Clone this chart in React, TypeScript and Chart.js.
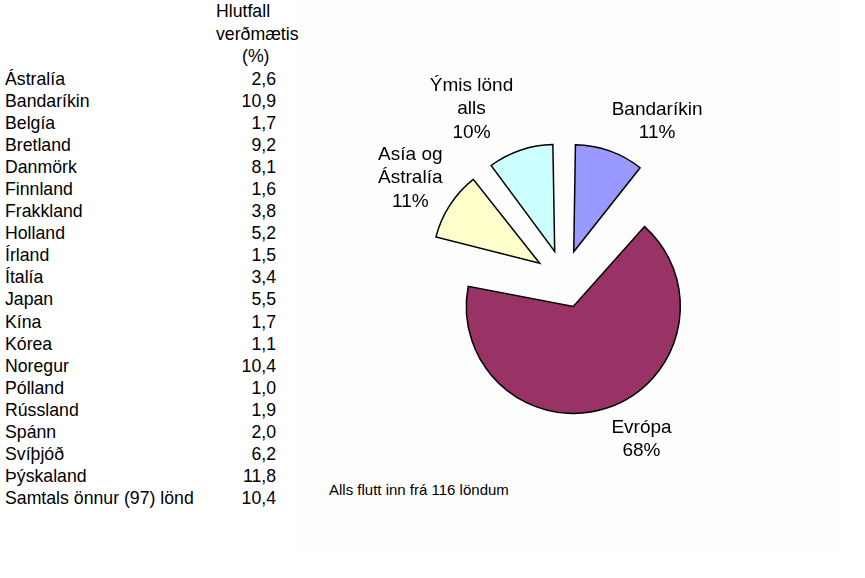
import React, { useEffect, useRef } from "react";
import { Chart, registerables } from "chart.js";

Chart.register(...registerables);

// ---- Data ----
const countries = [
  "Ástralía", "Bandaríkin", "Belgía", "Bretland", "Danmörk", "Finnland",
  "Frakkland", "Holland", "Írland", "Ítalía", "Japan", "Kína", "Kórea",
  "Noregur", "Pólland", "Rússland", "Spánn", "Svíþjóð", "Þýskaland",
  "Samtals önnur (97) lönd",
];
const shares = [
  2.6, 10.9, 1.7, 9.2, 8.1, 1.6, 3.8, 5.2, 1.5, 3.4, 5.5, 1.7, 1.1, 10.4,
  1.0, 1.9, 2.0, 6.2, 11.8, 10.4,
];
const headerLines = ["Hlutfall", "verðmætis", "(%)"];
const regionLabels = [["Bandaríkin"], ["Evrópa"], ["Asía og", "Ástralía"], ["Ýmis lönd", "alls"]];
const regionValues = [10.9, 67.8, 10.9, 10.4];
const footnote = "Alls flutt inn frá 116 löndum";

// ---- Styles / layout ----
const FONT = '"Liberation Sans", Arial, sans-serif';
const PIE_RADIUS = 107;
const EXPLODE = 29; // pixel translation of each slice
const sliceColors = ["#9999FF", "#993366", "#FFFFCC", "#CCFFFF"];
const labelNudges = [[34, 6], [21, -8], [-6, -7], [-36, -5]];
const ROW_H = 22.1;

const fmt = (v: number) => v.toFixed(1).replace(".", ",");

const explodeFix = {
  id: "explodeFix",
  afterDatasetUpdate(chart: any, args: any) {
    const meta = chart.getDatasetMeta(args.index);
    meta.data.forEach((arc: any) => {
      const fix = 1 - Math.sin(Math.min(Math.PI, arc.circumference || 0));
      arc.outerRadius = PIE_RADIUS - EXPLODE * fix;
    });
  },
};

const pieLabels = {
  id: "pieLabels",
  afterDatasetsDraw(chart: any) {
    const ctx = chart.ctx;
    const meta = chart.getDatasetMeta(0);
    const total = regionValues.reduce((a, b) => a + b, 0);
    ctx.save();
    ctx.font = `19px ${FONT}`;
    ctx.fillStyle = "#000";
    ctx.textAlign = "center";
    ctx.textBaseline = "alphabetic";
    meta.data.forEach((arc: any, i: number) => {
      const { x, y, startAngle, endAngle } = arc.getProps(["x", "y", "startAngle", "endAngle"], true);
      const mid = (startAngle + endAngle) / 2;
      const dist = PIE_RADIUS + EXPLODE + 40;
      const cx = x + Math.cos(mid) * dist + labelNudges[i][0];
      const cy = y + Math.sin(mid) * dist + labelNudges[i][1];
      const lines = [...regionLabels[i], Math.round((regionValues[i] / total) * 100) + "%"];
      lines.forEach((ln, j) => {
        ctx.fillText(ln, cx, cy + 7 + (j - (lines.length - 1) / 2) * 23.4);
      });
    });
    ctx.restore();
  },
};

export default function App() {
  const canvasRef = useRef<HTMLCanvasElement | null>(null);

  useEffect(() => {
    if (!canvasRef.current) return;
    const chart = new Chart(canvasRef.current, {
      type: "pie",
      data: {
        labels: regionLabels.map((l) => l.join(" ")),
        datasets: [
          {
            data: regionValues,
            backgroundColor: sliceColors,
            borderColor: "#000",
            borderWidth: 1.5,
            borderJoinStyle: "miter",
            offset: EXPLODE * 4,
            hoverOffset: 0,
            radius: PIE_RADIUS,
          } as any,
        ],
      },
      options: {
        responsive: false,
        animation: false,
        events: [],
        layout: { padding: { left: 263, right: 0, top: 0, bottom: 20 } },
        plugins: {
          legend: { display: false },
          tooltip: { enabled: false },
        },
      } as any,
      plugins: [explodeFix, pieLabels],
    });
    return () => chart.destroy();
  }, []);

  return (
    <div
      style={{
        position: "absolute",
        left: 0,
        top: 0,
        width: 865,
        height: 578,
        background: "#fff",
        fontFamily: FONT,
        color: "#000",
        overflow: "hidden",
      }}
    >
      <div style={{ position: "absolute", left: 298, top: 0, width: 543, height: 553, background: "#fdfdfd" }} />
      {/* header */}
      <div style={{ position: "absolute", left: 216, top: 0, fontSize: 17.7, lineHeight: "22.5px", whiteSpace: "nowrap" }}>
        {headerLines.map((h, i) => (
          <div key={h} style={{ paddingLeft: i === 2 ? 26 : 0 }}>{h}</div>
        ))}
      </div>
      {/* table rows */}
      <div style={{ position: "absolute", left: 0, top: 67.5, width: 300, fontSize: 17.7, lineHeight: `${ROW_H}px` }}>
        {countries.map((c, i) => (
          <div key={c} style={{ position: "relative", height: ROW_H, whiteSpace: "nowrap" }}>
            <span style={{ position: "absolute", left: 5, top: 0 }}>{c}</span>
            <span style={{ position: "absolute", left: 0, width: 276, textAlign: "right", top: 0 }}>{fmt(shares[i])}</span>
          </div>
        ))}
      </div>
      <div style={{ position: "absolute", left: 329, top: 481, fontSize: 15, lineHeight: "18px", whiteSpace: "nowrap" }}>
        {footnote}
      </div>
      <canvas
        ref={canvasRef}
        width={865}
        height={578}
        style={{ position: "absolute", left: 0, top: 0, width: 865, height: 578 }}
      />
    </div>
  );
}
